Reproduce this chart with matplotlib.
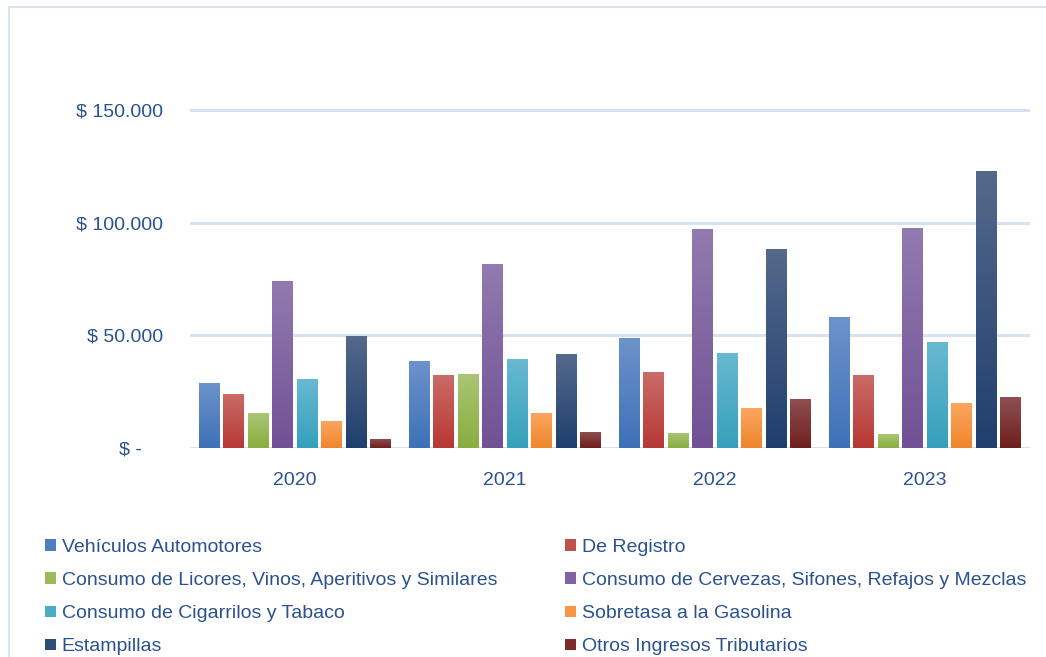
import numpy as np
import matplotlib
matplotlib.use("Agg")
import matplotlib.pyplot as plt
from matplotlib.patches import Rectangle, Patch
from matplotlib.ticker import FixedLocator
from matplotlib import font_manager

years = ["2020", "2021", "2022", "2023"]
series_names = [
    "Vehículos Automotores",
    "De Registro",
    "Consumo de Licores, Vinos, Aperitivos y Similares",
    "Consumo de Cervezas, Sifones, Refajos y Mezclas",
    "Consumo de Cigarrilos y Tabaco",
    "Sobretasa a la Gasolina",
    "Estampillas",
    "Otros Ingresos Tributarios",
]
vehiculos = [28800, 38800, 48600, 58100]
registro = [24000, 32600, 33900, 32400]
licores = [15500, 33000, 6700, 6200]
cervezas = [74100, 81700, 97300, 97600]
cigarrillos = [30600, 39300, 42000, 47000]
gasolina = [12000, 15600, 17900, 20000]
estampillas = [49700, 41500, 88400, 122900]
otros = [4000, 7100, 21900, 22600]
series_values = [vehiculos, registro, licores, cervezas, cigarrillos, gasolina, estampillas, otros]

y_ticks = [0, 50000, 100000, 150000]
y_tick_labels = ["$ -    ", "$ 50.000", "$ 100.000", "$ 150.000"]

# (top colour, bottom colour) gradients
grad_colors = [
    ("#6d93cb", "#3d71b7"),
    ("#cb6c68", "#b73834"),
    ("#aac575", "#89ae3e"),
    ("#927bb0", "#715195"),
    ("#68b9d1", "#35a0bb"),
    ("#fca660", "#ee862c"),
    ("#55698b", "#1f3f6e"),
    ("#8f5052", "#6f1f1d"),
]
legend_colors = ["#4a7ebf", "#c0504d", "#9bbb59", "#8064a2", "#4bacc6", "#f79646", "#2c4d75", "#7f2a2a"]
text_color = "#2a5290"

names = {f.name for f in font_manager.fontManager.ttflist}
narrow = "Liberation Sans Narrow" in names
leg_family = "Liberation Sans Narrow" if narrow else "Liberation Sans"
leg_size = 17.3 if narrow else 14

fig = plt.figure(figsize=(10.46, 6.57), dpi=100)
fig.patches.append(Rectangle((9 / 1046, -0.1), 1.2, 1.1 - 7 / 657, transform=fig.transFigure,
                             fill=False, edgecolor="#d9e2ef", linewidth=1.4, zorder=0))

ax = fig.add_axes([190 / 1046, (657 - 448) / 657, 840 / 1046, (448 - 40) / 657])
x = np.arange(len(years))
n = len(series_values)
slot = 0.1162
bw = 0.1
ymax = 181000

def to_rgb(h):
    return np.array(matplotlib.colors.to_rgb(h))

for i, (vals, (ct, cb)) in enumerate(zip(series_values, grad_colors)):
    offs = x + (i - (n - 1) / 2) * slot
    bars = ax.bar(offs, vals, width=bw, color=cb, linewidth=0, zorder=3)
    t = np.linspace(0, 1, 128)[:, None]
    grad = (1 - t) * to_rgb(ct) + t * to_rgb(cb)
    img = grad[:, None, :]
    for b in bars:
        x0 = b.get_x()
        h = b.get_height()
        im = ax.imshow(img, extent=[x0, x0 + bw, 0, h], origin="upper", aspect="auto",
                       zorder=4, interpolation="bilinear")
        im.set_clip_path(b)

ax.set_xlim(-0.5, len(years) - 0.5)
ax.set_ylim(0, ymax)
ax.set_xticks(x)
ax.set_xticklabels(years)
ax.yaxis.set_major_locator(FixedLocator(y_ticks))
ax.set_yticklabels(y_tick_labels)
ax.grid(axis="y", color="#d6e2f3", linewidth=2.2, zorder=0)
ax.set_axisbelow(True)
for s in ax.spines.values():
    s.set_visible(False)
ax.tick_params(axis="both", length=0)
ax.tick_params(axis="y", pad=19.5, labelsize=14, labelcolor=text_color)
ax.tick_params(axis="x", pad=17, labelsize=14, labelcolor=text_color)
for lab in ax.get_yticklabels() + ax.get_xticklabels():
    lab.set_fontfamily("Liberation Sans")

handles = [Patch(facecolor=c, edgecolor="none") for c in legend_colors]
order = [0, 2, 4, 6, 1, 3, 5, 7]
hl = 0.55 * 14 / leg_size
leg = fig.legend([handles[k] for k in order], [series_names[k] for k in order],
                 ncol=2, loc="upper left", bbox_to_anchor=(45 / 1046, 1 - 539 / 657),
                 frameon=False, prop={"family": leg_family, "size": leg_size},
                 handlelength=hl, handleheight=hl, handletextpad=0.3 * 14 / leg_size,
                 columnspacing=3.5 * 14 / leg_size, labelspacing=0.83 * 14 / leg_size,
                 borderpad=0, borderaxespad=0)
for t in leg.get_texts():
    t.set_color(text_color)

fig.savefig("out.png", dpi=100)
